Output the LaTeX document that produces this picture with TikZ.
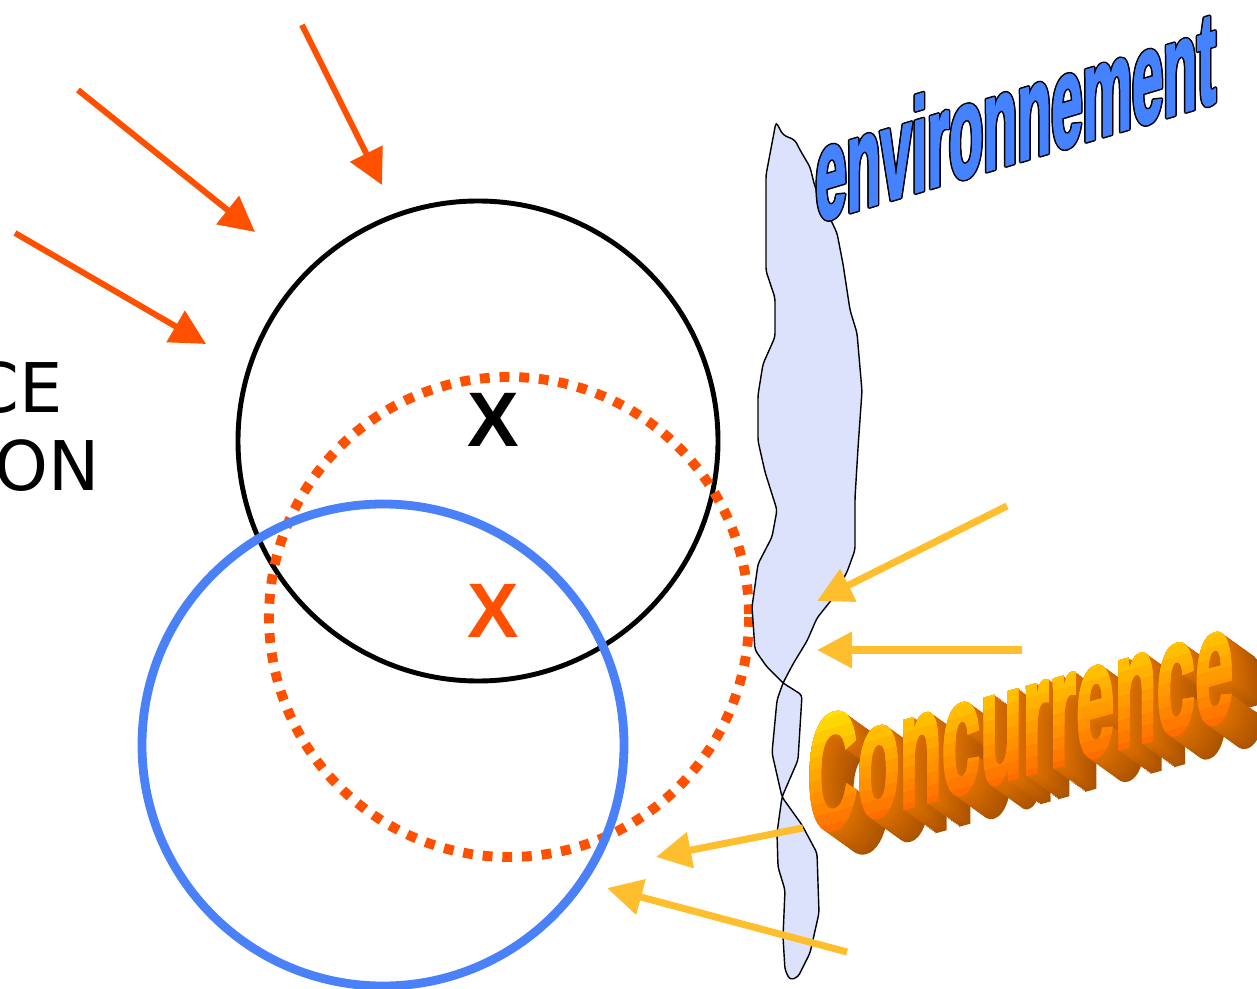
\documentclass[tikz,border=0pt]{standalone}
\usepackage{fontspec}
\setmainfont{DejaVu Sans}
\newfontfamily\artfont{Liberation Sans}
\newfontfamily\heavyfont[BoldFeatures={FakeBold=2.5}]{Liberation Sans}
\usetikzlibrary{arrows.meta}
\definecolor{hotred}{HTML}{FF5000}
\definecolor{gold}{HTML}{FFBE2E}
\definecolor{ringblue}{HTML}{4A80F8}
\definecolor{blobfill}{HTML}{DDE2FC}
\definecolor{envblue}{HTML}{4482FF}
\definecolor{concyellow}{HTML}{FFE400}
\definecolor{concorange}{HTML}{FF6000}
\definecolor{extdark}{HTML}{A04C00}
\definecolor{extlight}{HTML}{DC7000}

\begin{document}
\begin{tikzpicture}[x=0.02cm, y=-0.02cm,
			blackring/.style={line width=2.8pt, black},
			bluering/.style={line width=5pt, ringblue},
			dotring/.style={line width=5.6pt, hotred, dash pattern=on 5.6pt off 5.6pt},
			hotarrow/.style={-{Triangle[length=20pt, width=20pt]}, line width=3.4pt, hotred},
			goldarrow/.style={-{Triangle[length=20pt, width=20pt]}, line width=4pt, gold},
			blob/.style={draw=black, line width=0.8pt, fill=blobfill, rounded corners=2pt},
			crossmark/.style={inner sep=0, font=\artfont\bfseries\fontsize{44}{44}\selectfont},
			side/.style={inner sep=0, anchor=base east, font=\fontsize{39}{39}\selectfont},
			envword/.style={inner sep=0, anchor=base west, text=envblue,
				font=\heavyfont\bfseries\fontsize{30}{30}\selectfont, yslant=0.3, xscale=1.06, yscale=2.5},
			concword/.style={inner sep=0, anchor=base west,
				font=\heavyfont\bfseries\fontsize{30}{30}\selectfont, yslant=0.277, xscale=1.31, yscale=3.1},
			]
			\useasboundingbox (0,0) rectangle (1257,989);
			
			% Cut text on the left
			\node[side] (ce) at (63,413) {CE};
			\node[side] (ion) at (100,490) {ION};
			
			% Rings
			\draw[blackring] (478,441) circle[radius=240];
			\draw[dotring] (509,617) circle[radius=240];
			\draw[bluering] (383,745) circle[radius=241];
			\node[crossmark] (xtop) at (493,420) {X};
			\node[crossmark, text=hotred] (xlow) at (493,611) {X};
			
			% Twisted strip
			\draw[blob] (776,122) -- (783,135) -- (795,140) -- (800,150) -- (810,167) -- (815,187)
				-- (827,212) -- (837,233) -- (843,264) -- (850,310) -- (857,333) -- (862,391)
				-- (858,448) -- (855,498) -- (855,550) -- (847,572) -- (833,598) -- (817,618)
				-- (807,641) -- (793,664) -- (783,683) -- (777,700) -- (772,753) -- (782,797)
				-- (802,825) -- (817,853) -- (819,913) -- (810,953) -- (798,977) -- (790,980)
				-- (785,970) -- (783,937) -- (785,890) -- (778,867) -- (777,833) -- (782,797)
				-- (798,760) -- (802,695) -- (783,683) -- (767,667) -- (755,650) -- (752,607)
				-- (758,564) -- (772,537) -- (777,510) -- (765,472) -- (758,441) -- (758,395)
				-- (763,364) -- (775,337) -- (775,298) -- (766,271) -- (766,175) -- cycle;
			
			% Arrow ends
			\coordinate (r1s) at (302,25);   \coordinate (r1e) at (382,185);
			\coordinate (r2s) at (78,90);    \coordinate (r2e) at (255,232);
			\coordinate (r3s) at (15,233);   \coordinate (r3e) at (206,344);
			\coordinate (g1s) at (1007,506); \coordinate (g1e) at (817,601);
			\coordinate (g2s) at (1022,650); \coordinate (g2e) at (817,650);
			\coordinate (g3s) at (803,828);  \coordinate (g3e) at (656,857);
			\coordinate (g4s) at (847,952);  \coordinate (g4e) at (607,888);
			
			% Pressure from outside
			\draw[hotarrow] (r1s) -- (r1e);
			\draw[hotarrow] (r2s) -- (r2e);
			\draw[hotarrow] (r3s) -- (r3e);
			
			% Pressure from the side
			\draw[goldarrow] (g1s) -- (g1e);
			\draw[goldarrow] (g2s) -- (g2e);
			\draw[goldarrow] (g3s) -- (g3e);
			\draw[goldarrow] (g4s) -- (g4e);
			
			% environnement, outlined
			\foreach \dx/\dy [count=\n] in {-1/0,1/0,0/-1,0/1,-0.7/-0.7,0.7/0.7,-0.7/0.7,0.7/-0.7}
				\node[envword, text=black] (envline-\n) at (815+\dx*1.5, 222+\dy*1.5) {environnement};
			\node[envword] (env) at (815,222) {environnement};
			
			% Concurrence, extruded
			\foreach \k [evaluate=\k as \mix using int(100-\k*4)] in {20,19,...,1}
				\node[concword, text=extlight!\mix!extdark] (conc-\k) at (807+\k*1.6, 835+\k*1.15) {Concurrence};
			\foreach \i [evaluate=\i as \p using int(\i*9)] in {0,...,11} {
				\begin{scope}
					\clip (780,{862.5-\i*12}) -- (1257,{730.3-\i*12}) -- (1257,{530.3-\i*12})
						-- (780,{662.5-\i*12}) -- cycle;
					\node[concword, text=concyellow!\p!concorange] (front-\i) at (807,835) {Concurrence};
				\end{scope}
			}
		\end{tikzpicture}
\end{document}
